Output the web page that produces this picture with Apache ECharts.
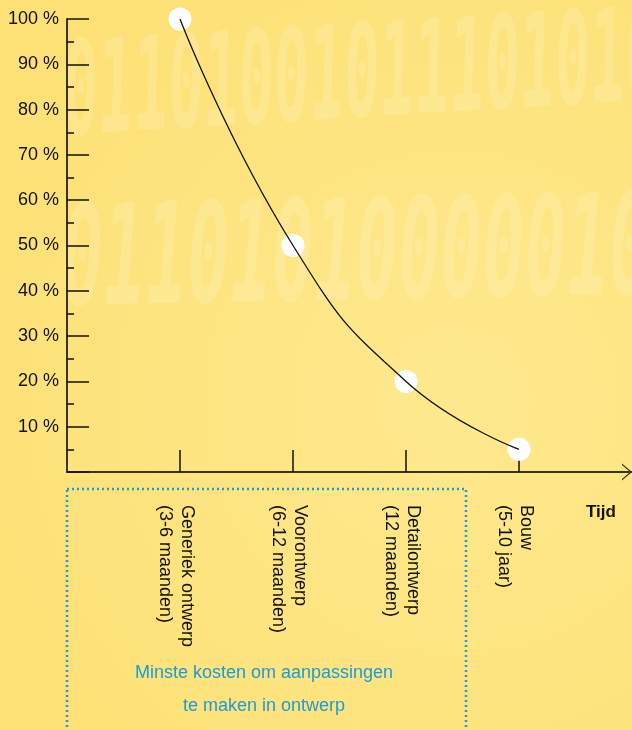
<!DOCTYPE html>
<html>
<head>
<meta charset="utf-8">
<script src="https://cdn.jsdelivr.net/npm/echarts@6/dist/echarts.min.js"></script>
<style>
  html, body { margin: 0; padding: 0; }
  #chart { width: 632px; height: 730px; }
</style>
</head>
<body>
<div id="chart"></div>
<script>
// fases (eerste en laatste plek leeg: begin van de as en de pijl)
const categories = [
  '',
  'Generiek ontwerp\n(3-6 maanden)',
  'Voorontwerp\n(6-12 maanden)',
  'Detailontwerp\n(12 maanden)',
  'Bouw\n(5-10 jaar)',
  ''
]
const costValues = [null, 100, 50, 20, 5, null]
const yMin = 0
const yMax = 100
const yInterval = 10

const font = '"Liberation Sans", Arial, sans-serif'
const axisColor = '#3a3422'
const blue = '#1c9bd7'

const chart = echarts.init(document.getElementById('chart'))

const option = {
  animation: false,
  backgroundColor: {
    type: 'radial',
    x: 0.72,
    y: 0.55,
    r: 0.8,
    colorStops: [
      { offset: 0, color: '#fee98e' },
      { offset: 1, color: '#fde176' },
    ],
  },
  textStyle: { fontFamily: font },
  grid: {
    left: 67,
    right: 0,
    top: 19,
    bottom: 258,
    outerBoundsMode: 'none',
  },
  xAxis: {
    type: 'category',
    data: categories,
    boundaryGap: false,
    axisLine: {
      lineStyle: { color: axisColor, width: 2 },
      symbol: ['none', 'path://M0,10 L8.5,0 L17,10 L15.4,10 L8.5,2 L1.6,10 Z'],
      symbolSize: [17, 10],
      symbolOffset: [0, -5],
    },
    axisTick: {
      inside: true,
      length: 22,
      interval: (idx) => idx > 0 && idx < categories.length - 1,
      lineStyle: { color: '#111', width: 1.5 },
    },
    axisLabel: {
      interval: 0,
      rotate: -90,
      margin: 33,
      fontSize: 18,
      color: '#111',
      formatter: (v) => {
        if (!v) return ''
        const [first, second] = v.split('\n')
        return '{a|' + first + '}\n{b|' + second + '}'
      },
      rich: {
        a: { fontSize: 18, lineHeight: 31, color: '#111' },
        b: { fontSize: 18, lineHeight: 13, color: '#111' },
      },
    },
    splitLine: { show: false },
  },
  yAxis: {
    type: 'value',
    min: yMin,
    max: yMax,
    interval: yInterval,
    axisLine: {
      show: true,
      lineStyle: { color: axisColor, width: 2 },
    },
    axisTick: {
      show: true,
      inside: true,
      length: 22,
      lineStyle: { color: '#111', width: 1.5 },
    },
    minorTick: {
      show: true,
      splitNumber: 2,
      length: 7,
      lineStyle: { color: '#111', width: 1.5 },
    },
    axisLabel: {
      margin: 8,
      fontSize: 18,
      color: '#111',
      formatter: (v) => (v === 0 ? '' : v + ' %'),
    },
    splitLine: { show: false },
  },
  graphic: [
    // decoratieve binaire cijfers op de achtergrond
    {
      type: 'text',
      left: 60,
      top: 0,
      rotation: 0.06,
      scaleX: 0.45,
      silent: true,
      z: -10,
      style: {
        text: '01101001011101010',
        font: 'italic bold 130px "DejaVu Sans Mono"',
        fill: 'rgba(255,255,255,0.15)',
      },
    },
    {
      type: 'text',
      left: 60,
      top: 185,
      rotation: 0.02,
      scaleX: 0.5,
      silent: true,
      z: -10,
      style: {
        text: '0110101000001010',
        font: 'italic bold 140px "DejaVu Sans Mono"',
        fill: 'rgba(255,255,255,0.15)',
      },
    },
    {
      type: 'rect',
      silent: true,
      shape: { x: 67, y: 489, width: 399, height: 280 },
      style: {
        fill: 'none',
        stroke: blue,
        lineWidth: 2.5,
        lineDash: [2, 3],
      },
    },
    {
      type: 'text',
      x: 264,
      y: 673,
      silent: true,
      style: {
        text: 'Minste kosten om aanpassingen',
        font: '18px ' + font,
        fill: blue,
        textAlign: 'center',
        textVerticalAlign: 'middle',
      },
    },
    {
      type: 'text',
      x: 264,
      y: 706,
      silent: true,
      style: {
        text: 'te maken in ontwerp',
        font: '18px ' + font,
        fill: blue,
        textAlign: 'center',
        textVerticalAlign: 'middle',
      },
    },
    {
      type: 'text',
      x: 586,
      y: 512,
      silent: true,
      style: {
        text: 'Tijd',
        font: 'bold 17px ' + font,
        fill: '#111',
        textVerticalAlign: 'middle',
      },
    },
  ],
  series: [
    {
      name: 'punten',
      type: 'scatter',
      data: costValues,
      symbol: 'circle',
      symbolSize: 23,
      itemStyle: { color: '#ffffff', opacity: 1 },
      z: 2,
      silent: true,
    },
    {
      name: 'kosten',
      type: 'line',
      data: costValues,
      smooth: 0.5,
      showSymbol: false,
      lineStyle: { color: '#111', width: 1.3 },
      z: 3,
      silent: true,
    },
  ],
}

chart.setOption(option)

window.addEventListener('resize', () => chart.resize())
</script>
</body>
</html>
